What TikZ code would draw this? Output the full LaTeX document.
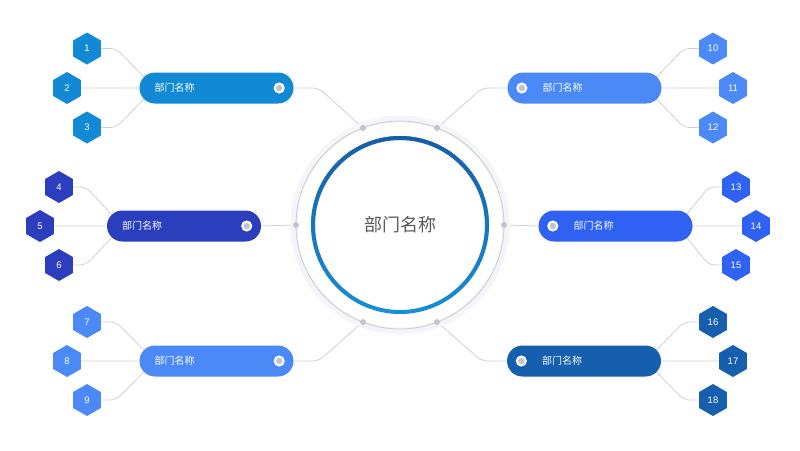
\documentclass[tikz,border=0pt]{standalone}
\usepackage{fontspec}
\setmainfont{Liberation Sans}
\newfontfamily\cjk{Noto Sans CJK SC}
\usepackage{tikz}
\usetikzlibrary{positioning, shapes.geometric, backgrounds, fadings}
\usepackage{xcolor}

\definecolor{deptA}{HTML}{1289D4}
\definecolor{deptB}{HTML}{2B3EBE}
\definecolor{deptC}{HTML}{4B8AF6}
\definecolor{deptD}{HTML}{2F62F2}
\definecolor{deptE}{HTML}{155FAE}
\definecolor{ringTop}{HTML}{1A5DA6}
\definecolor{ringBot}{HTML}{168FD6}
\definecolor{rimgrey}{HTML}{CACCD6}
\definecolor{bandgrey}{HTML}{F4F5F9}
\definecolor{linkgrey}{HTML}{CDD0D8}
\definecolor{jointgrey}{HTML}{C2C5CF}
\definecolor{hubtext}{HTML}{595959}

\begin{document}
\begin{tikzpicture}[x=1pt, y=-1pt,
		hub/.style={circle, minimum size=174pt, text=hubtext, font=\cjk\fontsize{18}{22}\selectfont},
		joint/.style={circle, fill=jointgrey, minimum size=6pt, inner sep=0pt},
		pill/.style={rectangle, rounded corners=15.5pt, minimum width=154pt, minimum height=31pt, inner sep=0pt},
		lbl/.style={inner sep=0pt, text=white, font=\cjk\fontsize{10}{12}\selectfont},
		knob/.style={circle, fill=jointgrey, draw=white, line width=2pt, minimum size=9pt, inner sep=0pt},
		hex/.style={regular polygon, regular polygon sides=6, shape border rotate=30, minimum size=32pt, inner sep=0pt, text=white, font=\fontsize{9.5}{11}\selectfont},
		link/.style={draw=linkgrey, line width=0.8pt, rounded corners=6pt}]
		\useasboundingbox (0,0) rectangle (800,450);
		
		% centre
		\draw[bandgrey, line width=7pt] (400,225) circle (106pt);
		\draw[rimgrey, line width=0.8pt] (400,225) circle (104pt);
		\node[hub] (hub) at (400,225) {部门名称};
		\draw[ringBot, line width=4pt] (hub.center) circle (87pt);
		\draw[ringTop, line width=4pt, path fading=south] (hub.center) circle (87pt);
		
		\node[joint] (jtl) at (363,128) {};
		\node[joint] (jml) at (296,225) {};
		\node[joint] (jbl) at (363,322) {};
		\node[joint] (jtr) at (437,128) {};
		\node[joint] (jmr) at (504,225) {};
		\node[joint] (jbr) at (437,322) {};
		
		% pills
		\node[pill, fill=deptA] (p1) at (216.5,88) {};
		\node[pill, fill=deptB] (p2) at (184,226) {};
		\node[pill, fill=deptC] (p3) at (216.5,361) {};
		\node[pill, fill=deptC] (p4) at (584.5,88) {};
		\node[pill, fill=deptD] (p5) at (615.5,226) {};
		\node[pill, fill=deptE] (p6) at (584,361) {};
		
		\node[lbl, right=15pt of p1.west] (t1) {部门名称};
		\node[lbl, right=15pt of p2.west] (t2) {部门名称};
		\node[lbl, right=15pt of p3.west] (t3) {部门名称};
		\node[lbl, right=35pt of p4.west] (t4) {部门名称};
		\node[lbl, right=35pt of p5.west] (t5) {部门名称};
		\node[lbl, right=35pt of p6.west] (t6) {部门名称};
		
		\node[knob, left=9pt of p1.east] (k1) {};
		\node[knob, left=9pt of p2.east] (k2) {};
		\node[knob, left=9pt of p3.east] (k3) {};
		\node[knob, right=9pt of p4.west] (k4) {};
		\node[knob, right=9pt of p5.west] (k5) {};
		\node[knob, right=9pt of p6.west] (k6) {};
		
		% hexagons
		\node[hex, fill=deptA] (h1) at (87,48.5) {1};
		\node[hex, fill=deptA] (h2) at (67,88) {2};
		\node[hex, fill=deptA] (h3) at (87,127.5) {3};
		\node[hex, fill=deptB] (h4) at (59,187) {4};
		\node[hex, fill=deptB] (h5) at (40,226) {5};
		\node[hex, fill=deptB] (h6) at (59,265) {6};
		\node[hex, fill=deptC] (h7) at (87,322) {7};
		\node[hex, fill=deptC] (h8) at (67,361) {8};
		\node[hex, fill=deptC] (h9) at (87,400) {9};
		\node[hex, fill=deptC] (h10) at (713,48.5) {10};
		\node[hex, fill=deptC] (h11) at (733,88) {11};
		\node[hex, fill=deptC] (h12) at (713,127.5) {12};
		\node[hex, fill=deptD] (h13) at (736,187) {13};
		\node[hex, fill=deptD] (h14) at (756,226) {14};
		\node[hex, fill=deptD] (h15) at (736,265) {15};
		\node[hex, fill=deptE] (h16) at (713,322) {16};
		\node[hex, fill=deptE] (h17) at (733,361) {17};
		\node[hex, fill=deptE] (h18) at (713,400) {18};
		
		\begin{scope}[on background layer]
		% pill to ring
		\draw[link] (p1.east) -- ++(25,0) -- (jtl.center);
		\draw[link] (p2.east) -- (jml.center);
		\draw[link] (p3.east) -- ++(25,0) -- (jbl.center);
		\draw[link] (p4.west) -- ++(-25,0) -- (jtr.center);
		\draw[link] (p5.west) -- (jmr.center);
		\draw[link] (p6.west) -- ++(-25,0) -- (jbr.center);
		
		% hexagon to pill
		\draw[link] (h1.east) -- ++(15,0) -- ([xshift=15.5pt]p1.west);
		\draw[link] (h2.east) -- (p1.west);
		\draw[link] (h3.east) -- ++(15,0) -- ([xshift=15.5pt]p1.west);
		\draw[link] (h4.east) -- ++(13,0) -- ([xshift=15.5pt]p2.west);
		\draw[link] (h5.east) -- (p2.west);
		\draw[link] (h6.east) -- ++(13,0) -- ([xshift=15.5pt]p2.west);
		\draw[link] (h7.east) -- ++(15,0) -- ([xshift=15.5pt]p3.west);
		\draw[link] (h8.east) -- (p3.west);
		\draw[link] (h9.east) -- ++(15,0) -- ([xshift=15.5pt]p3.west);
		\draw[link] (h10.west) -- ++(-15,0) -- ([xshift=-15.5pt]p4.east);
		\draw[link] (h11.west) -- (p4.east);
		\draw[link] (h12.west) -- ++(-15,0) -- ([xshift=-15.5pt]p4.east);
		\draw[link] (h13.west) -- ++(-13,0) -- ([xshift=-15.5pt]p5.east);
		\draw[link] (h14.west) -- (p5.east);
		\draw[link] (h15.west) -- ++(-13,0) -- ([xshift=-15.5pt]p5.east);
		\draw[link] (h16.west) -- ++(-15,0) -- ([xshift=-15.5pt]p6.east);
		\draw[link] (h17.west) -- (p6.east);
		\draw[link] (h18.west) -- ++(-15,0) -- ([xshift=-15.5pt]p6.east);
		\end{scope}
		
		\end{tikzpicture}
\end{document}
